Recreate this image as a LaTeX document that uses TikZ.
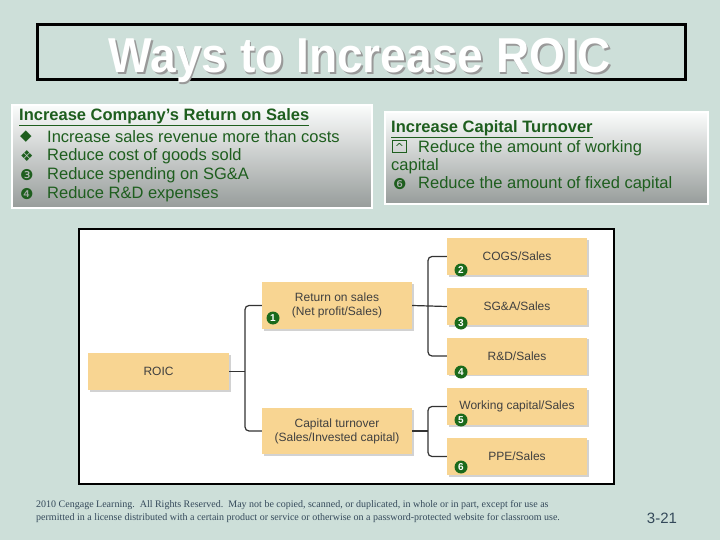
\documentclass[tikz,border=0pt]{standalone}
\usepackage{fontspec}
\setmainfont{Liberation Sans}
\newfontfamily\serifft{Liberation Serif}
\newfontfamily\dejavu{DejaVu Sans}
\usetikzlibrary{shadows}
\definecolor{bg}{HTML}{CDDFD9}
\definecolor{txtgreen}{HTML}{1E5E1E}
\definecolor{boxor}{HTML}{F8D592}
\definecolor{numgreen}{HTML}{1B6A1B}
\definecolor{foot}{HTML}{34495A}
\tikzset{
  panel/.style={draw=white,line width=1.5pt,top color=white!92!bg,bottom color=gray!70!bg,inner sep=0pt},
  obox/.style={fill=boxor,draw=none,minimum height=37pt,align=center,font=\fontsize{12}{14}\selectfont,text=black!75,drop shadow={shadow xshift=1.5pt,shadow yshift=-1.5pt,opacity=0.35}},
  conn/.style={draw=black!80,line width=1.2pt,rounded corners=4pt},
  num/.style={circle,fill=numgreen,text=white,inner sep=0pt,minimum size=13pt,font=\bfseries\fontsize{10}{10}\selectfont},
  ptxt/.style={anchor=west,text=txtgreen,font=\fontsize{16.5}{18}\selectfont,inner sep=0pt},
  bul/.style={anchor=west,text=txtgreen,inner sep=0pt,font=\dejavu\fontsize{15}{15}\selectfont},
  ttl/.style={font=\bfseries\fontsize{49}{49}\selectfont,xscale=0.94},
}
\begin{document}
\begin{tikzpicture}[x=1pt,y=-1pt]
\fill[bg] (0,0) rectangle (720,540);
\useasboundingbox (0,0) rectangle (720,540);
% title
\draw[black,line width=3pt] (37,25) rectangle (685,80);
\node (title) [ttl,text=white] at (360,61) {\rlap{\hspace{2pt}\raisebox{-2pt}{\textcolor{black!40}{Ways to Increase ROIC}}}Ways to Increase ROIC};
% panels
\node (lp) [panel,minimum width=360pt,minimum height=103pt] at (192,156.5) {};
\node (rp) [panel,minimum width=323pt,minimum height=92pt] at (546.5,158) {};
\node (lh) [ptxt,font=\bfseries\fontsize{16.5}{18}\selectfont] at (19,117) {\underline{Increase Company’s Return on Sales}};
\node (b1) [bul] at (20,137) {◆};
\node (l1) [ptxt] at (47,137) {Increase sales revenue more than costs};
\node (b2) [bul] at (20,156) {❖};
\node (l2) [ptxt] at (47,156) {Reduce cost of goods sold};
\node (b3) [bul] at (20,175) {❸};
\node (l3) [ptxt] at (47,175) {Reduce spending on SG\&A};
\node (b4) [bul] at (20,194) {❹};
\node (l4) [ptxt] at (47,194) {Reduce R\&D expenses};
\node (rh) [ptxt,font=\bfseries\fontsize{16.5}{18}\selectfont] at (391,129) {\underline{Increase Capital Turnover}};
\node (b5) [bul,draw=txtgreen,line width=1pt,minimum width=14pt,minimum height=12pt,font=\dejavu\fontsize{11}{11}\selectfont] at (392,147) {\raisebox{-3pt}{\^{}}};
\node (r1) [ptxt] at (418,148) {Reduce the amount of working};
\node (r1b) [ptxt] at (391,166) {capital};
\node (b6) [bul] at (393,184) {❻};
\node (r2) [ptxt] at (418,184) {Reduce the amount of fixed capital};
% diagram frame
\draw[black,line width=2pt,fill=white] (79,229) rectangle (614,484);
\node (roic) [obox,minimum width=141pt] at (158.5,371.5) {ROIC};
\node (ros) [obox,minimum width=150pt,minimum height=47pt] at (337,305.5) {Return on sales\\(Net profit/Sales)};
\node (ct) [obox,minimum width=150pt,minimum height=46pt] at (337,431) {Capital turnover\\(Sales/Invested capital)};
\node (cogs) [obox,minimum width=140pt] at (517,256.5) {COGS/Sales};
\node (sga) [obox,minimum width=140pt] at (517,306.5) {SG\&A/Sales};
\node (rd) [obox,minimum width=140pt] at (517,356) {R\&D/Sales};
\node (wc) [obox,minimum width=140pt] at (517,406.5) {Working capital/Sales};
\node (ppe) [obox,minimum width=140pt] at (517,456.5) {PPE/Sales};
% connectors
\draw[conn] (roic.east) -- (245,371.5);
\draw[conn] (ros.west) -| (245,371.5) |- (ct.west);
\draw[conn] (ros.east) -- (sga.west);
\draw[conn] (cogs.west) -| (428,306) |- (rd.west);
\draw[conn] (ct.east) -- (428,431);
\draw[conn] (wc.west) -| (428,431) |- (ppe.west);
% numbers
\node (n1) [num] at (273,318) {1};
\node (n2) [num] at (461,270) {2};
\node (n3) [num] at (461,323) {3};
\node (n4) [num] at (461,372) {4};
\node (n5) [num] at (461,420) {5};
\node (n6) [num] at (461,467) {6};
% footer
\node (f) [anchor=north west,text=foot,align=left,inner sep=0pt,font=\serifft\fontsize{10}{13}\selectfont] at (36,500) {2010 Cengage Learning.\ \ All Rights Reserved.\ \ May not be copied, scanned, or duplicated, in whole or in part, except for use as\\permitted in a license distributed with a certain product or service or otherwise on a password-protected website for classroom use.};
\node (pg) [text=foot,font=\fontsize{15}{15}\selectfont] at (662,518) {3-21};
\end{tikzpicture}
\end{document}
